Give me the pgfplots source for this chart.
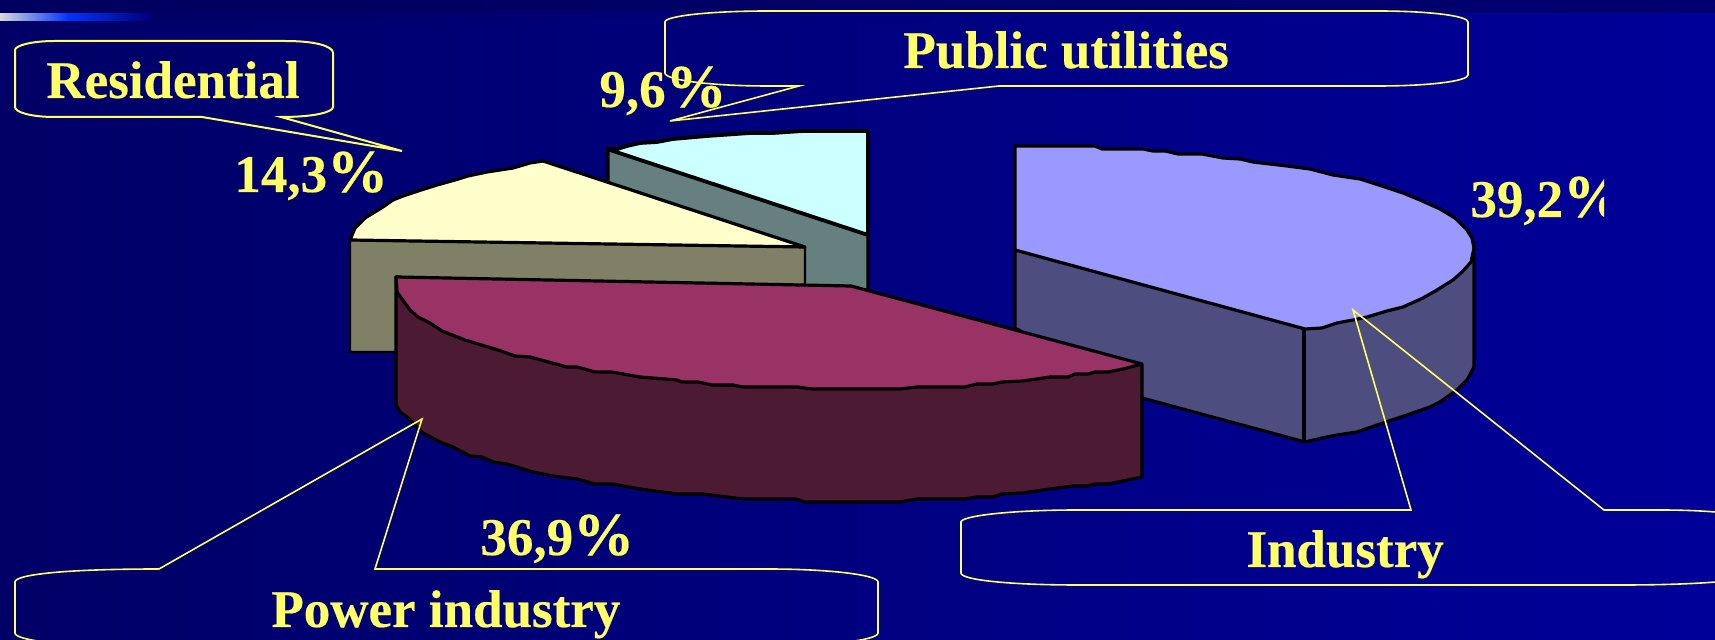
\documentclass[border=0pt]{standalone}
\usepackage{fontspec}
\setmainfont[BoldFeatures={FakeBold=0.35}]{Liberation Serif}
\usepackage{pgfplots}
\pgfplotsset{compat=1.18}
\definecolor{bgL}{HTML}{000066}
\definecolor{bgR}{HTML}{000099}
\definecolor{stripL}{HTML}{000060}
\definecolor{stripR}{HTML}{000070}
\definecolor{callout}{HTML}{FFFF66}
\definecolor{cyanT}{HTML}{CCFFFF}
\definecolor{cyanS}{HTML}{668080}
\definecolor{yelT}{HTML}{FFFFCC}
\definecolor{yelS}{HTML}{808066}
\definecolor{indT}{HTML}{9999FF}
\definecolor{indS}{HTML}{4D4D80}
\definecolor{powT}{HTML}{993366}
\definecolor{powS}{HTML}{4D1A33}
\newcommand{\lab}[3]{\node[anchor=base west,inner sep=0pt,xshift=-1pt,text=callout,font=\fontsize{26.5}{30}\selectfont\bfseries] at (axis cs:#1,#2) {#3};}
\newcommand{\pct}{{\fontsize{30.5}{30}\selectfont\%}}
\begin{document}
\begin{tikzpicture}
\begin{axis}[
  hide axis, scale only axis, width=857.5pt, height=320pt,
  xmin=0, xmax=1715, ymin=0, ymax=640, y dir=reverse, clip=true,
  every axis plot/.append style={line join=round, draw=black, line width=1.6pt}
]
% background
\shade[left color=bgL,right color=bgR] (axis cs:0,0) rectangle (axis cs:1715,640);
\shade[left color=stripL,right color=stripR] (axis cs:0,0) rectangle (axis cs:1715,21);
\shade[left color=bgL,right color=bgR] (axis cs:150,14) rectangle (axis cs:1715,21);
\shade[left color=white!85!black,right color=blue!80!cyan] (axis cs:0,14) rectangle (axis cs:68,21);
\shade[left color=blue!80!cyan,right color=bgL!60!bgR] (axis cs:68,14) rectangle (axis cs:150,21);
% public utilities slice
\addplot[fill=cyanS] coordinates {(608,149)(868,235)(868,292)(608,292)} --cycle;
\addplot[fill=cyanT,line width=1.9pt] coordinates {(607,149)(617,149)(627,146)(640,143)(657,142)(673,139)(707,136)(750,133)(773,133)(803,131)(820,131)(868,131)(868,235)} --cycle;
% residential slice
\addplot[fill=yelS,line width=1.1pt] coordinates {(350,240)(805,247)(805,352)(350,352)} --cycle;
\addplot[fill=yelT] coordinates {(350,240)(355,228)(365,218)(383,207)(393,200)(403,196)(418,191)(437,185)(455,180)(468,176)(487,172)(513,168)(530,163)(543,161)(805,247)} --cycle;
% industry slice
\addplot[fill=indS] coordinates {(1015,146)(1015,328)(1142,398)(1305,442)(1322,438)(1337,435)(1357,432)(1383,423)(1407,415)(1430,407)(1440,402)(1457,390)(1467,380)(1474,367)(1474,248)} --cycle;
\addplot[fill=indT] coordinates {(1015,146)(1095,146)(1102,149)(1143,149)(1153,151)(1165,151)(1178,154)(1202,154)(1223,158)(1240,159)(1253,162)(1287,166)(1310,169)(1333,175)(1360,179)(1382,186)(1403,193)(1420,200)(1440,209)(1455,218)(1467,230)(1472,238)(1474,248)(1471,262)(1462,272)(1453,280)(1437,290)(1423,298)(1403,307)(1387,311)(1367,317)(1353,320)(1337,323)(1322,328)(1305,329)(1015,250)} --cycle;
\addplot[line width=2.3pt] coordinates {(1304,329)(1304,442)};
% power industry slice
\addplot[fill=powS] coordinates {(396,277)(396,405)(400,412)(407,417)(415,425)(423,433)(440,442)(453,447)(470,456)(482,457)(493,462)(507,464)(533,472)(553,476)(577,479)(595,484)(612,484)(640,489)(677,494)(703,494)(743,499)(795,499)(805,502)(900,502)(917,499)(965,499)(977,497)(993,497)(1002,494)(1023,493)(1050,489)(1073,486)(1088,486)(1095,484)(1108,484)(1123,481)(1142,477)(1142,364)} --cycle;
\addplot[fill=powT] coordinates {(396,277)(851,286)(1142,364)(1123,369)(1108,372)(1095,372)(1088,374)(1075,374)(1068,377)(1050,377)(1023,381)(1002,382)(993,384)(977,384)(965,387)(917,387)(900,389)(812,389)(797,387)(743,387)(733,385)(712,385)(698,382)(682,382)(677,380)(640,377)(612,372)(595,372)(577,367)(567,367)(530,357)(515,356)(498,350)(475,343)(465,340)(442,331)(430,323)(418,317)(410,310)(397,292)} --cycle;
% callouts
\begin{scope}[draw=callout,line width=0.8pt]
\clip (axis cs:0,0) rectangle (axis cs:1715,640);
\draw[line width=1pt] (axis cs:55,41) -- (axis cs:285,41) .. controls (axis cs:315,41) and (axis cs:333,46) .. (axis cs:333,53) -- (axis cs:333,107) .. controls (axis cs:333,112) and (axis cs:315,117) .. (axis cs:281,117) -- (axis cs:402,151) -- (axis cs:202,117) -- (axis cs:55,117) .. controls (axis cs:30,117) and (axis cs:15,112) .. (axis cs:15,107) -- (axis cs:15,50) .. controls (axis cs:15,46) and (axis cs:30,41) .. (axis cs:55,41) -- cycle;
\draw (axis cs:768,11) -- (axis cs:1378,11) .. controls (axis cs:1430,11) and (axis cs:1468,16) .. (axis cs:1468,22) -- (axis cs:1468,75) .. controls (axis cs:1468,81) and (axis cs:1430,86) .. (axis cs:1378,86) -- (axis cs:999,86) -- (axis cs:670,121) -- (axis cs:799,86) -- (axis cs:768,86) .. controls (axis cs:710,86) and (axis cs:665,80) .. (axis cs:665,73) -- (axis cs:665,22) .. controls (axis cs:665,16) and (axis cs:710,11) .. (axis cs:768,11) -- cycle;
\draw (axis cs:159,569) -- (axis cs:422,419) -- (axis cs:375,569) -- (axis cs:768,569) .. controls (axis cs:830,569) and (axis cs:878,575) .. (axis cs:878,582) -- (axis cs:878,633) .. controls (axis cs:878,640) and (axis cs:830,646) .. (axis cs:768,646) -- (axis cs:125,646) .. controls (axis cs:60,646) and (axis cs:15,640) .. (axis cs:15,633) -- (axis cs:15,582) .. controls (axis cs:15,575) and (axis cs:60,569) .. (axis cs:159,569) -- cycle;
\draw (axis cs:1078,510) -- (axis cs:1411,510) -- (axis cs:1353,310) -- (axis cs:1604,510) -- (axis cs:1660,510) .. controls (axis cs:1720,510) and (axis cs:1760,516) .. (axis cs:1760,522) -- (axis cs:1760,573) .. controls (axis cs:1760,580) and (axis cs:1700,585) .. (axis cs:1623,585) -- (axis cs:1078,585) .. controls (axis cs:1010,585) and (axis cs:961,580) .. (axis cs:961,573) -- (axis cs:961,522) .. controls (axis cs:961,516) and (axis cs:1010,510) .. (axis cs:1078,510) -- cycle;
\end{scope}
% labels
\lab{48}{98}{Residential}
\lab{905}{68}{Public utilities}
\lab{236}{192}{14,3\pct}
\lab{601}{107}{9,6\pct}
\lab{482}{555}{36,9\pct}
\lab{273}{627}{Power industry}
\lab{1248}{567}{Industry}
\begin{scope}
\clip (axis cs:1400,150) rectangle (axis cs:1604,260);
\lab{1472}{217}{39,2\pct}
\end{scope}
\end{axis}
\end{tikzpicture}
\end{document}
